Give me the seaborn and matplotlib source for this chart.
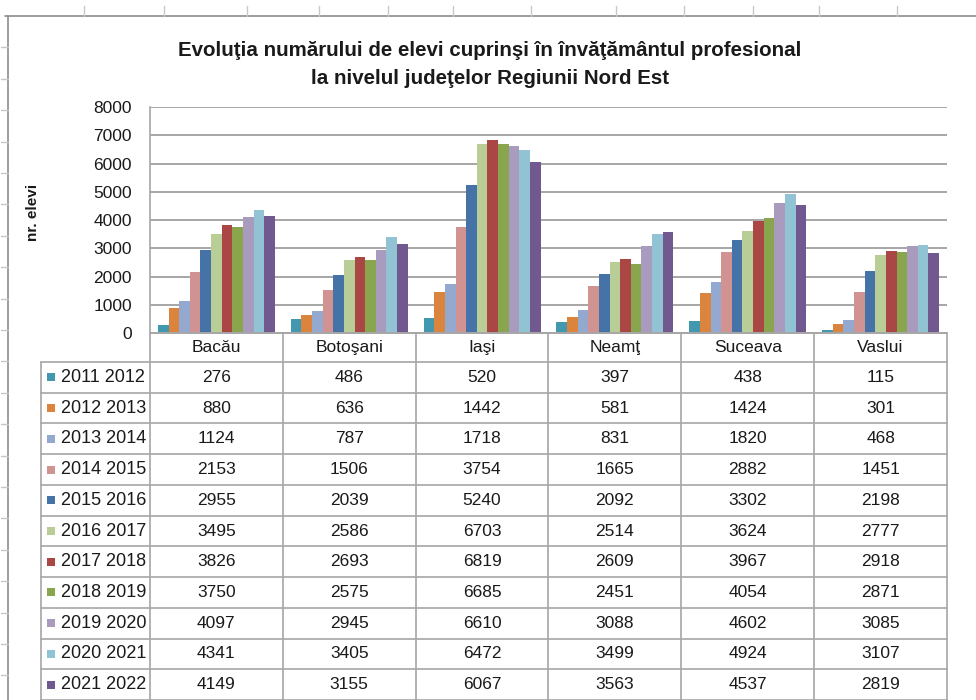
import pandas as pd
import seaborn as sns
import matplotlib.pyplot as plt
import matplotlib.transforms as mtransforms
from matplotlib.patches import Rectangle

counties = ["Bacău", "Botoşani", "Iaşi", "Neamţ", "Suceava", "Vaslui"]
years = ["2011 2012", "2012 2013", "2013 2014", "2014 2015", "2015 2016", "2016 2017",
         "2017 2018", "2018 2019", "2019 2020", "2020 2021", "2021 2022"]

y2011_2012 = [276, 486, 520, 397, 438, 115]
y2012_2013 = [880, 636, 1442, 581, 1424, 301]
y2013_2014 = [1124, 787, 1718, 831, 1820, 468]
y2014_2015 = [2153, 1506, 3754, 1665, 2882, 1451]
y2015_2016 = [2955, 2039, 5240, 2092, 3302, 2198]
y2016_2017 = [3495, 2586, 6703, 2514, 3624, 2777]
y2017_2018 = [3826, 2693, 6819, 2609, 3967, 2918]
y2018_2019 = [3750, 2575, 6685, 2451, 4054, 2871]
y2019_2020 = [4097, 2945, 6610, 3088, 4602, 3085]
y2020_2021 = [4341, 3405, 6472, 3499, 4924, 3107]
y2021_2022 = [4149, 3155, 6067, 3563, 4537, 2819]

series = [y2011_2012, y2012_2013, y2013_2014, y2014_2015, y2015_2016, y2016_2017,
          y2017_2018, y2018_2019, y2019_2020, y2020_2021, y2021_2022]

colors = ["#4198AF", "#DB843D", "#93A9CF", "#D19392", "#4572A7", "#B9CD96",
          "#AA4643", "#89A54E", "#A99BBD", "#92C3D4", "#71588F"]

rows = []
for year, vals in zip(years, series):
    for county, v in zip(counties, vals):
        rows.append({"judet": county, "an": year, "elevi": v})
data = pd.DataFrame(rows)

sns.set_theme(style="white")
plt.rcParams["font.family"] = ["Liberation Sans", "DejaVu Sans"]
grid_col = "#a6a6a6"
text_col = "#1a1a1a"

W, H = 976, 700
f = plt.figure(figsize=(W / 100, H / 100), dpi=100)

# plot area in pixels
px_left, px_right, px_top, px_bottom = 150, 947, 107, 333
ax = f.add_axes([px_left / W, 1 - px_bottom / H, (px_right - px_left) / W, (px_bottom - px_top) / H])

sns.barplot(data, x="judet", y="elevi", hue="an", palette=colors, width=0.88, gap=0,
            saturation=1, linewidth=0, errorbar=None, legend=False, ax=ax)
ax.set_xlim(-0.5, len(counties) - 0.5)
ax.set_ylim(0, 8000)
ax.set_yticks(range(0, 8001, 1000))
ax.yaxis.grid(True, color=grid_col, linewidth=1.4)
ax.set_axisbelow(True)
for s in ["top", "right", "bottom"]:
    ax.spines[s].set_visible(False)
ax.spines["left"].set_color(grid_col)
ax.spines["left"].set_linewidth(1.2)
ax.set_xticks([])
ax.set_xlabel("")
ax.set_ylabel("")
ax.tick_params(axis="y", length=0, pad=13, labelsize=12.5, labelcolor=text_col)
ax.axhline(0, color=grid_col, linewidth=1.4, clip_on=False)

# data table under the chart
unit = (px_right - px_left) / len(counties)
tx_left = 41
tax = f.add_axes([tx_left / W, 0, (px_right - tx_left) / W, (H - px_bottom) / H])
tax.set_xlim(-0.5 - (px_left - tx_left) / unit, len(counties) - 0.5)
tax.set_ylim(H, px_bottom)
tax.axis("off")

header_bottom = 362
row_h = (H - header_bottom) / len(years)
lab_left = tax.get_xlim()[0]
lw = 1.2

# header cells
for i, c in enumerate(counties):
    tax.text(i, (px_bottom + header_bottom) / 2, c, ha="center", va="center",
             fontsize=12.5, color=text_col)
for k in range(len(counties) + 1):
    tax.plot([k - 0.5, k - 0.5], [px_bottom, H], color=grid_col, lw=lw, clip_on=False)
tax.plot([lab_left, lab_left], [header_bottom, H], color=grid_col, lw=lw, clip_on=False)
for r in range(len(years) + 1):
    yy = header_bottom + r * row_h
    tax.plot([lab_left, len(counties) - 0.5], [yy, yy], color=grid_col, lw=lw, clip_on=False)

# row labels with legend keys, and values
key_trans = mtransforms.blended_transform_factory(f.transFigure, tax.transData)
for r, (year, vals, col) in enumerate(zip(years, series, colors)):
    yc = header_bottom + (r + 0.5) * row_h
    tax.add_patch(Rectangle((47 / W, yc - 4), 8 / W, 8, facecolor=col, edgecolor="none",
                            transform=key_trans, clip_on=False))
    tax.text(61 / W, yc, year, transform=key_trans, ha="left", va="center",
             fontsize=13, color=text_col)
    for i, v in enumerate(vals):
        tax.text(i, yc, str(v), ha="center", va="center", fontsize=12.5, color=text_col)

# titles
f.text(490 / W, 1 - 50 / H, "Evoluţia numărului de elevi cuprinşi în învăţământul profesional",
       ha="center", va="center", fontsize=14.8, fontweight="bold", color=text_col)
f.text(490 / W, 1 - 78 / H, "la nivelul judeţelor Regiunii Nord Est",
       ha="center", va="center", fontsize=14.8, fontweight="bold", color=text_col)
f.text(33 / W, 1 - 212 / H, "nr. elevi", rotation=90, ha="center", va="center",
       fontsize=11, fontweight="bold", color=text_col)

# outer sheet frame with the faint spreadsheet ticks
frame_col = "#8c8c8c"
f.add_artist(plt.Line2D([5 / W, 1], [1 - 16 / H, 1 - 16 / H], color=frame_col, lw=1.2))
f.add_artist(plt.Line2D([8 / W, 8 / W], [0, 1 - 16 / H], color=frame_col, lw=1.2))
for xt in [84, 164, 247, 319, 388, 453, 531, 616, 684, 753, 819, 897]:
    f.add_artist(plt.Line2D([xt / W, xt / W], [1 - 6 / H, 1 - 16 / H], color="#c8c8c8", lw=1))
for k in range(1, 22):
    yt = 16 + 31.4 * k
    f.add_artist(plt.Line2D([1 / W, 8 / W], [1 - yt / H, 1 - yt / H], color="#c8c8c8", lw=1))

f.savefig("out.png", dpi=100)
